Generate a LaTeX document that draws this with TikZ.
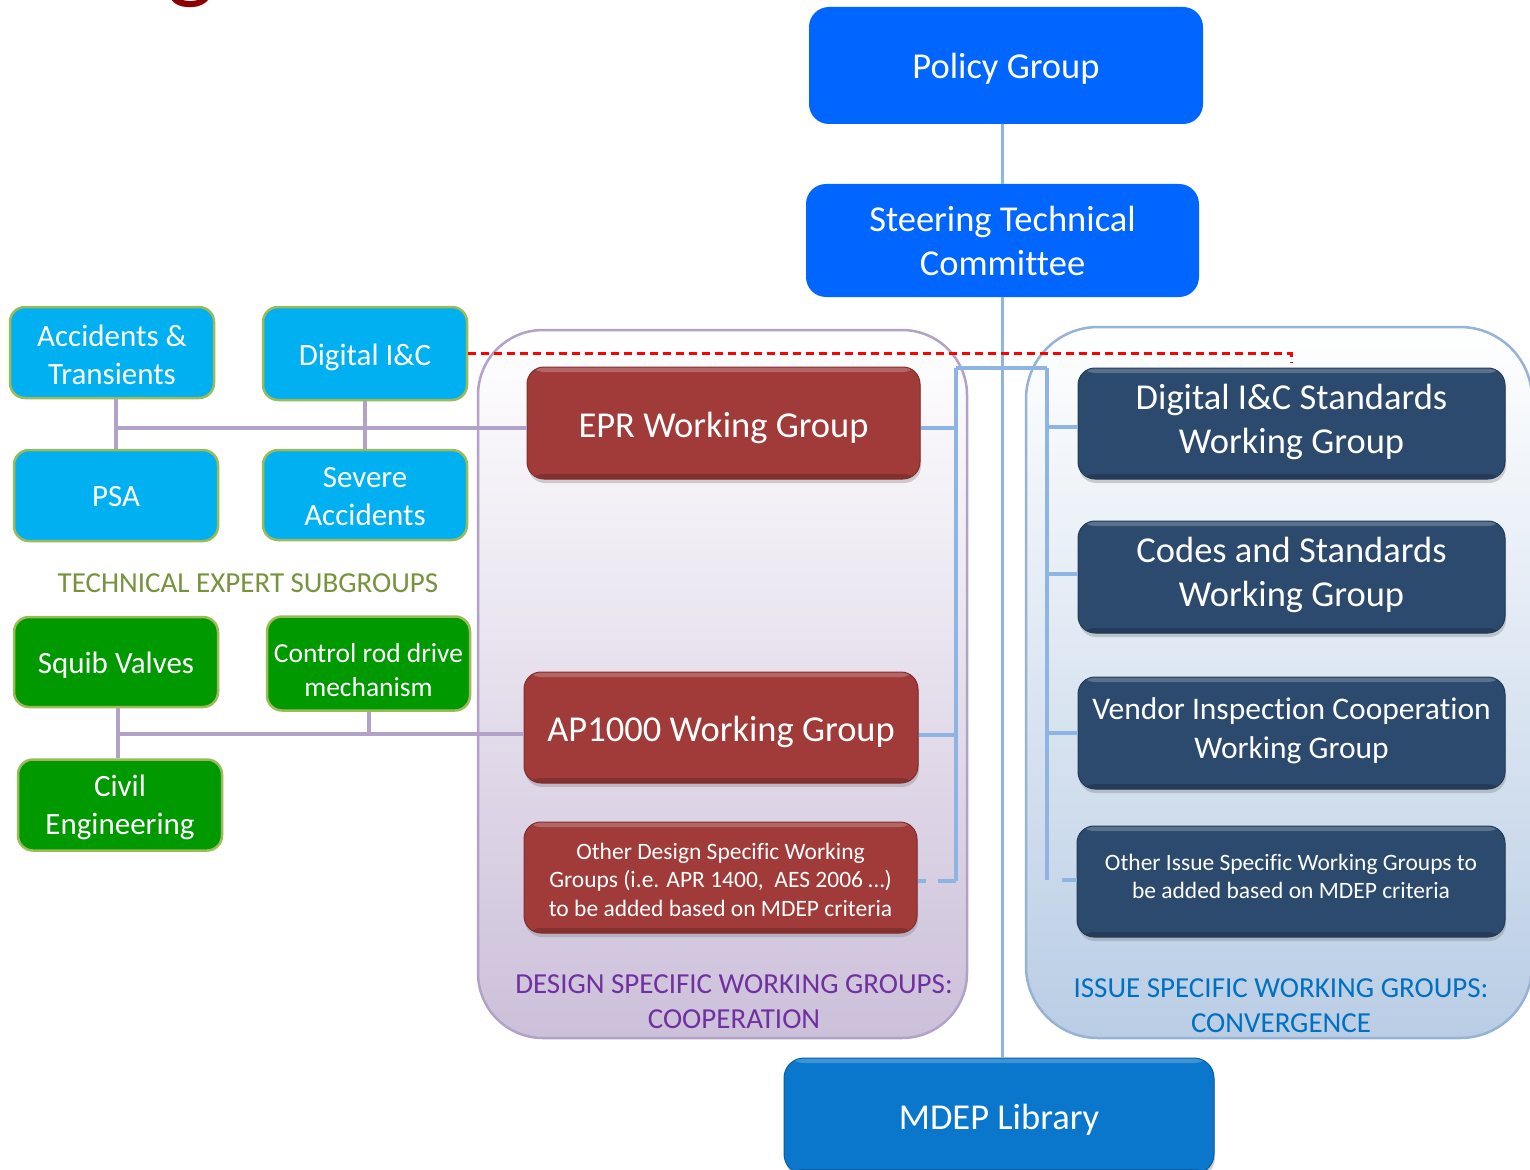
\documentclass[tikz,border=0pt]{standalone}
\usepackage{fontspec}
\setmainfont{Carlito}[Ligatures=NoCommon]
\usetikzlibrary{calc,shadows}

\definecolor{policyblue}{HTML}{0066FF}
\definecolor{libblue}{HTML}{0A77CC}
\definecolor{cyanbox}{HTML}{00B0F0}
\definecolor{greenbox}{HTML}{009900}
\definecolor{greenedge}{HTML}{9BBB59}
\definecolor{wgred}{HTML}{A03B3A}
\definecolor{wgnavy}{HTML}{2C4A6E}
\definecolor{lilac}{HTML}{B3A2C7}
\definecolor{lilacfill}{HTML}{CCC0DA}
\definecolor{skyline}{HTML}{8EB4E3}
\definecolor{skyedge}{HTML}{95B3D7}
\definecolor{skyfill}{HTML}{B9CDE5}
\definecolor{olivetext}{HTML}{77933C}
\definecolor{violettext}{HTML}{7030A0}
\definecolor{issuetext}{HTML}{0070C0}
\definecolor{titlered}{HTML}{8B0000}
\definecolor{linkred}{HTML}{FF0000}

\newcommand\szL{\fontsize{36.5}{44}\selectfont}
\newcommand\szM{\fontsize{31}{38}\selectfont}
\newcommand\szT{\fontsize{29}{35}\selectfont}
\newcommand\szC{\fontsize{27.5}{34}\selectfont}
\newcommand\szS{\fontsize{23.5}{28.5}\selectfont}

\tikzset{
  % box captions are set as centred labels so they can be nudged vertically
  boxcaption/.style={align=center, inner sep=0pt, text=white},
  topbox/.style={fill=policyblue, rounded corners=20},
  libbox/.style={fill=libblue, draw=libblue!80!black, line width=1, rounded corners=20,
                 drop shadow={opacity=0.35, shadow xshift=1pt, shadow yshift=-4pt},
                 bevel},
  bevel/.style={path picture={
      \fill[white, opacity=0.22] (path picture bounding box.north west)
        rectangle ([yshift=-5pt]path picture bounding box.north east);
      \fill[black, opacity=0.18] (path picture bounding box.south west)
        rectangle ([yshift=5pt]path picture bounding box.south east);}},
  expert/.style={rounded corners=15, draw=greenedge, line width=2.5},
  tesblue/.style={expert, fill=cyanbox},
  tesgreen/.style={expert, fill=greenbox},
  wgbox/.style={rounded corners=17, line width=1, bevel,
                drop shadow={opacity=0.35, shadow xshift=1pt, shadow yshift=-4pt}},
  redwg/.style={wgbox, fill=wgred, draw=wgred!80!black},
  navywg/.style={wgbox, fill=wgnavy, draw=wgnavy!80!black},
  pline/.style={draw=lilac, line width=4},
  bline/.style={draw=skyline, line width=4},
  trunk/.style={draw=skyline, line width=3},
  reddash/.style={draw=linkred, line width=2.2, dash pattern=on 8pt off 5pt},
  grouplabel/.style={align=center, inner sep=0pt, font=\szT},
}

\begin{document}
\begin{tikzpicture}[x=1pt, y=-1pt]
\useasboundingbox (0,0) rectangle (1530,1169);
\fill[white] (0,0) rectangle (1530,1169);

% tail of the slide title above the frame
\node[anchor=base, inner sep=0pt, text=titlered, font=\fontsize{100}{100}\selectfont]
  (title) at (191,-9) {g};

% working group containers
\path[draw=lilac, line width=2.5, rounded corners=65, top color=white, bottom color=lilacfill]
  (478,330) rectangle (967,1038);
\path[draw=skyedge, line width=2.5, rounded corners=72, top color=white, bottom color=skyfill]
  (1026,327) rectangle (1532,1038);

% management line
\node[topbox, minimum width=394, minimum height=117,
  label={[boxcaption, font=\szL, yshift=-3pt]center:Policy Group}] (policy) at (1006,65.5) {};
\node[topbox, minimum width=393, minimum height=113,
  label={[boxcaption, font=\szL]center:Steering Technical\\Committee}] (steer) at (1002.5,240.5) {};
\node[libbox, minimum width=430, minimum height=116,
  label={[boxcaption, font=\szL, yshift=-4pt]center:MDEP Library}] (mdep) at (999,1116) {};

% technical expert subgroups
\node[tesblue, minimum width=204, minimum height=91,
  label={[boxcaption, font=\szM, yshift=-2pt]center:Accidents \&\\Transients}] (acc) at (112,352.5) {};
\node[tesblue, minimum width=204, minimum height=93,
  label={[boxcaption, font=\szM, yshift=-4pt]center:Digital I\&C}] (dic) at (365,353.5) {};
\node[tesblue, minimum width=204, minimum height=91,
  label={[boxcaption, font=\szM, yshift=-1pt]center:PSA}] (psa) at (116,495.5) {};
\node[tesblue, minimum width=204, minimum height=90,
  label={[boxcaption, font=\szM, yshift=-2pt]center:Severe\\Accidents}] (sev) at (365,495) {};
\node[text=olivetext, font=\szT, inner sep=0pt] (teslabel) at (248,583.5) {TECHNICAL EXPERT SUBGROUPS};
\node[tesgreen, minimum width=204, minimum height=90,
  label={[boxcaption, font=\szM, yshift=-3pt]center:Squib Valves}] (squib) at (116,662) {};
\node[tesgreen, minimum width=203, minimum height=94,
  label={[boxcaption, font=\szC, yshift=-7pt]center:Control rod drive\\mechanism}] (crd) at (368.5,663.5) {};
\node[tesgreen, minimum width=204, minimum height=91,
  label={[boxcaption, font=\szM, yshift=-2.5pt]center:Civil\\Engineering}] (civil) at (120,805) {};

% design specific working groups
\node[redwg, minimum width=393, minimum height=112,
  label={[boxcaption, font=\szL, yshift=-5pt]center:EPR Working Group}] (epr) at (723.5,423) {};
\node[redwg, minimum width=394, minimum height=111,
  label={[boxcaption, font=\szL, yshift=-4pt]center:AP1000 Working Group}] (ap) at (721,727.5) {};
\node[redwg, minimum width=393, minimum height=111,
  label={[boxcaption, font=\szS, yshift=-2pt]center:{Other Design Specific Working\\Groups (i.e. APR 1400,\ \ AES 2006 \dots)\\to be added based on MDEP criteria}}]
  (odw) at (720.5,877.5) {};
\node[grouplabel, text=violettext] (dslabel) at (734,1001.5)
  {DESIGN SPECIFIC WORKING GROUPS:\\COOPERATION};

% issue specific working groups
\node[navywg, minimum width=427, minimum height=111,
  label={[boxcaption, font=\szL, yshift=2pt]center:Digital I\&C Standards\\Working Group}] (dicstd) at (1291.5,423.5) {};
\node[navywg, minimum width=427, minimum height=112,
  label={[boxcaption, font=\szL, yshift=2pt]center:Codes and Standards\\Working Group}] (cns) at (1291.5,577) {};
\node[navywg, minimum width=427, minimum height=112,
  label={[boxcaption, font=\fontsize{31.5}{39}\selectfont, yshift=2pt]center:Vendor Inspection Cooperation\\Working Group}] (vic) at (1291.5,733) {};
\node[navywg, minimum width=428, minimum height=111,
  label={[boxcaption, font=\szS, yshift=5pt]center:Other Issue Specific Working Groups to\\be added based on MDEP criteria}] (oisw) at (1291,881.5) {};
\node[grouplabel, text=issuetext] (islabel) at (1281,1005.5)
  {ISSUE SPECIFIC WORKING GROUPS:\\CONVERGENCE};

% connectors of the technical expert subgroups
\coordinate (tesA) at (116,428);
\coordinate (tesB) at (118,734);
\draw[pline] (psa.north |- acc.south) -- (psa.north);
\draw[pline] (dic.south) -- (dic.south |- sev.north);
\draw[pline] (tesA) -- ($(epr.west)+(0,5)$);
\draw[pline] (squib.south -| tesB) -- (civil.north -| tesB);
\draw[pline] (crd.south) -- (crd.south |- tesB);
\draw[pline] (tesB) -- ($(ap.west)+(0,6.5)$);

% main trunk
\draw[trunk] (steer.north |- policy.south) -- (steer.north);
\draw[trunk] (steer.south) -- (steer.south |- mdep.north);

% buses of the working groups
\coordinate (dsTop) at (956,368);
\coordinate (isTop) at (1047,368);
\coordinate (dsBot) at (956,881);
\coordinate (isBot) at (1047,880);
\draw[bline] (dsTop) -- (isTop);
\draw[bline] (dsTop) -- (dsBot);
\draw[bline] (isTop) -- (isBot);
\draw[bline] (epr.east) ++(0,5) coordinate (e1) -- (e1 -| dsTop);
\draw[bline] (ap.east) ++(0,7) coordinate (e2) -- (e2 -| dsTop);
\draw[bline, dash pattern=on 8pt off 12pt on 30pt] (odw.east) ++(0,3.5) coordinate (e3) -- (e3 -| dsTop);
\draw[bline] (dicstd.west) ++(0,3.5) coordinate (w1) -- (w1 -| isTop);
\draw[bline] (cns.west) ++(0,-3) coordinate (w2) -- (w2 -| isTop);
\draw[bline] (vic.west) -- (vic.west -| isTop);
\draw[bline, dash pattern=on 15pt off 30pt] (oisw.west) ++(0,-1.5) coordinate (w4) -- (w4 -| isTop);

% link between the Digital I&C subgroup and its standards group
\draw[reddash] (dic.east) -- (dic.east -| dicstd.north) -- ++(0,9);

\end{tikzpicture}
\end{document}
